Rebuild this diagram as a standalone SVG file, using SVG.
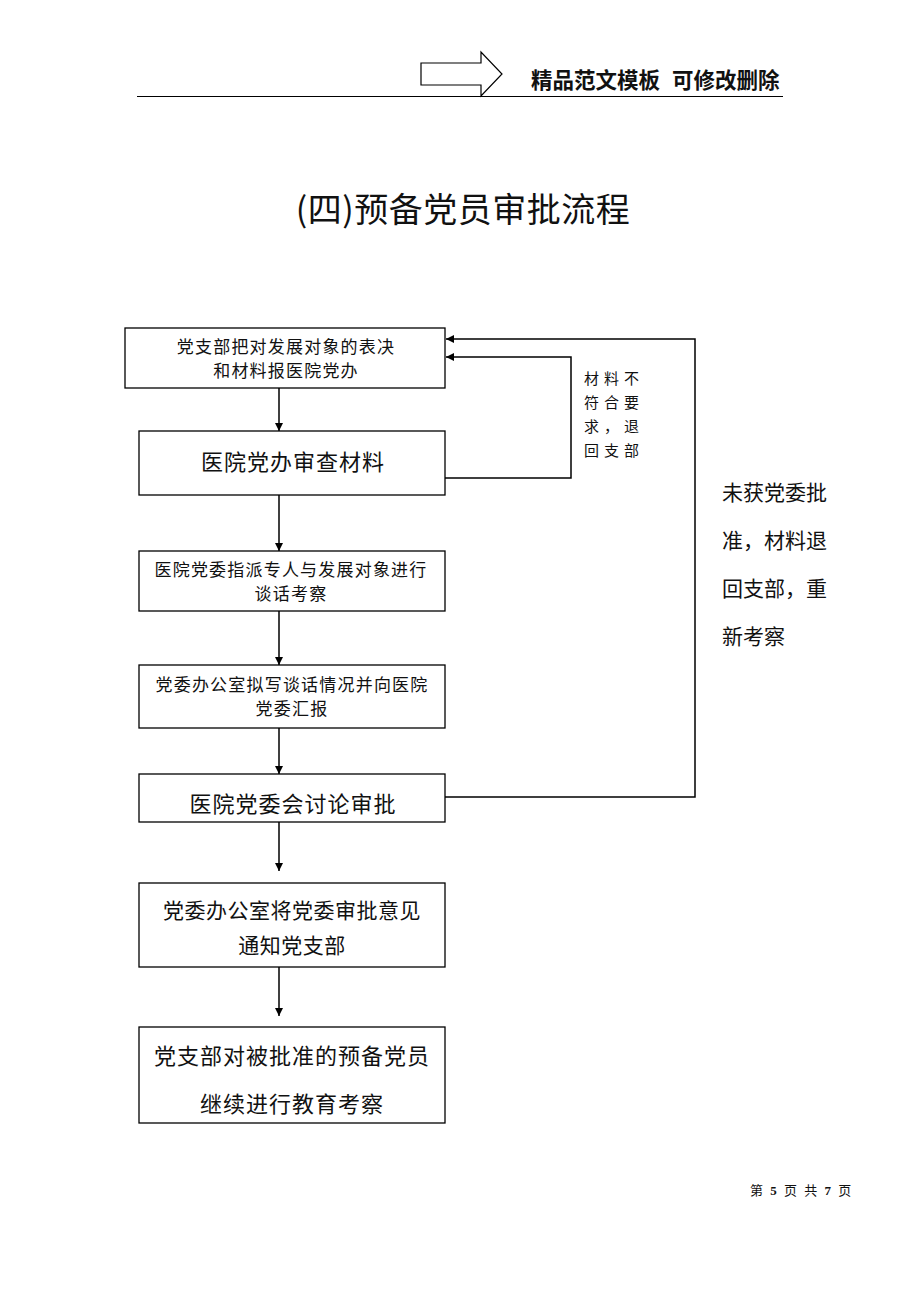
<svg xmlns="http://www.w3.org/2000/svg" width="920" height="1302" viewBox="0 0 920 1302">
<style>
text{font-family:"Liberation Serif","Noto Sans CJK SC",serif;fill:#111}
.box{fill:#fff;stroke:#000;stroke-width:1.3}
.ln{fill:none;stroke:#000;stroke-width:1.5}
.s16{font-size:17px;letter-spacing:1.2px}
.s21{font-size:22px;letter-spacing:1px}
.s20{font-size:21px;letter-spacing:0.5px}
</style>
<defs>
<marker id="ah" viewBox="0 0 10 10" refX="10" refY="5" markerWidth="8" markerHeight="8" markerUnits="userSpaceOnUse" orient="auto"><path d="M0,0 L10,5 L0,10 z" fill="#000"/></marker>
</defs>
<rect width="920" height="1302" fill="#fff"/>
<g id="header">
<path d="M421,63 H481 V52 L502,74 L481,96 V85 H421 Z" fill="#fff" stroke="#000" stroke-width="1.2"/>
<line x1="137" y1="96.5" x2="783" y2="96.5" stroke="#000" stroke-width="1.2"/>
<text x="531" y="88" style="font-family:'Noto Sans CJK SC',sans-serif;font-size:21.5px;font-weight:bold">精品范文模板<tspan dx="12">可修改删除</tspan></text>
</g>
<text x="463" y="222" text-anchor="middle" style="font-family:'Noto Sans CJK SC',sans-serif;font-size:34px;letter-spacing:0.5px">(四)预备党员审批流程</text>
<g id="connectors">
<line class="ln" x1="279" y1="388" x2="279" y2="431" marker-end="url(#ah)"/>
<line class="ln" x1="279" y1="495" x2="279" y2="551" marker-end="url(#ah)"/>
<line class="ln" x1="279" y1="611" x2="279" y2="665" marker-end="url(#ah)"/>
<line class="ln" x1="279" y1="728" x2="279" y2="774" marker-end="url(#ah)"/>
<line class="ln" x1="279" y1="822" x2="279" y2="871" marker-end="url(#ah)"/>
<line class="ln" x1="279" y1="967" x2="279" y2="1016" marker-end="url(#ah)"/>
<polyline class="ln" points="445,478 571,478 571,357 446,357" marker-end="url(#ah)"/>
<polyline class="ln" points="445,797 695,797 695,339 446,339" marker-end="url(#ah)"/>
</g>
<g id="n1"><rect class="box" x="125" y="328" width="320" height="60"/>
<text class="s16" x="286" y="353" text-anchor="middle">党支部把对发展对象的表决</text>
<text class="s16" x="286" y="377" text-anchor="middle">和材料报医院党办</text></g>
<g id="n2"><rect class="box" x="139" y="431" width="306" height="64"/>
<text class="s21" x="293" y="470" text-anchor="middle">医院党办审查材料</text></g>
<g id="n3"><rect class="box" x="139" y="551" width="306" height="60"/>
<text class="s16" x="291" y="576" text-anchor="middle">医院党委指派专人与发展对象进行</text>
<text class="s16" x="291" y="600" text-anchor="middle">谈话考察</text></g>
<g id="n4"><rect class="box" x="139" y="665" width="306" height="63"/>
<text class="s16" x="292" y="691" text-anchor="middle">党委办公室拟写谈话情况并向医院</text>
<text class="s16" x="292" y="715" text-anchor="middle">党委汇报</text></g>
<g id="n5"><rect class="box" x="139" y="774" width="306" height="48"/>
<text class="s21" x="293" y="812" text-anchor="middle">医院党委会讨论审批</text></g>
<g id="n6"><rect class="box" x="139" y="883" width="306" height="84"/>
<text class="s20" x="292" y="918" text-anchor="middle">党委办公室将党委审批意见</text>
<text class="s20" x="292" y="953" text-anchor="middle">通知党支部</text></g>
<g id="n7"><rect class="box" x="139" y="1027" width="306" height="96"/>
<text class="s21" x="292" y="1064" text-anchor="middle">党支部对被批准的预备党员</text>
<text class="s21" x="292" y="1112" text-anchor="middle">继续进行教育考察</text></g>
<g id="label1" style="font-size:15px;letter-spacing:5px">
<text x="584" y="384">材料不</text>
<text x="584" y="408">符合要</text>
<text x="584" y="432">求，退</text>
<text x="584" y="456">回支部</text>
</g>
<g id="label2" style="font-size:21px">
<text x="722" y="500">未获党委批</text>
<text x="722" y="548">准，材料退</text>
<text x="722" y="596">回支部，重</text>
<text x="722" y="644">新考察</text>
</g>
<text x="750" y="1195" style="font-size:13px;letter-spacing:2px">第 <tspan font-weight="bold">5</tspan> 页 共 <tspan font-weight="bold">7</tspan> 页</text>
</svg>
